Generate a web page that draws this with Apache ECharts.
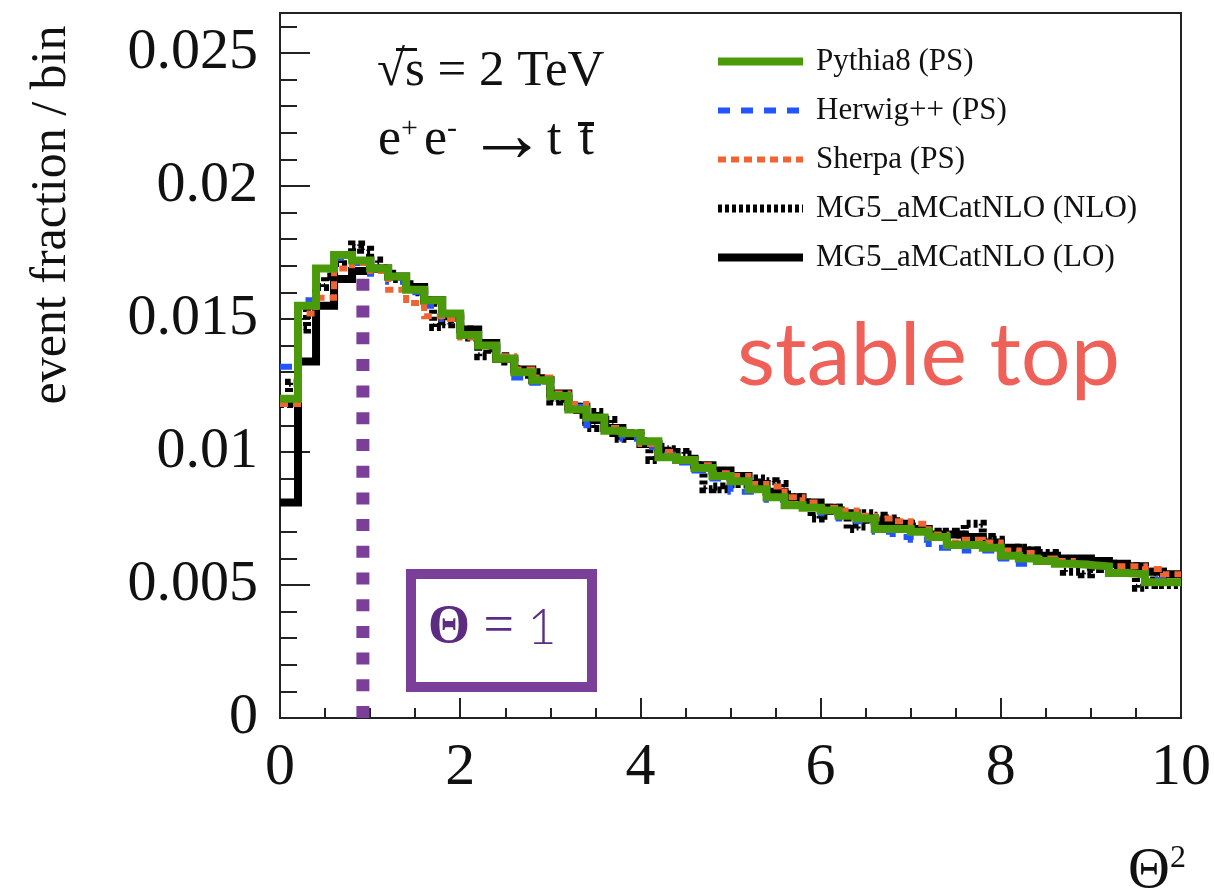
<!DOCTYPE html>
<html>
<head>
<meta charset="utf-8">
<script src="https://cdn.jsdelivr.net/npm/echarts/dist/echarts.min.js"></script>
<style>
  html, body { margin: 0; background: #fff; }
  #chart { width: 1214px; height: 896px; }
</style>
</head>
<body>
<div id="chart"></div>
<script>
// histogram contents, bin width 0.2 in Theta^2 (NLO: 0.1)
const pythia = [0.0120, 0.0155, 0.0169, 0.0174, 0.0172, 0.0169, 0.0166, 0.0161, 0.0157, 0.0152,
  0.0144, 0.0140, 0.0135, 0.0130, 0.0127, 0.0121, 0.0116, 0.0113, 0.0108, 0.0107,
  0.0104, 0.0098, 0.0097, 0.0094, 0.0091, 0.0089, 0.0086, 0.0083, 0.0080, 0.0079,
  0.0078, 0.0076, 0.0075, 0.0071, 0.0071, 0.0070, 0.0068, 0.0065, 0.0065, 0.0064,
  0.0061, 0.0060, 0.0059, 0.0058, 0.00575, 0.0057, 0.00545, 0.0054, 0.0051, 0.0051]
const herwig = [0.0132, 0.0157, 0.0169, 0.0173, 0.0171, 0.0167, 0.0164, 0.0160, 0.0155, 0.0150,
  0.0144, 0.0140, 0.0135, 0.0128, 0.0126, 0.0121, 0.0117, 0.0110, 0.0108, 0.0105,
  0.0102, 0.0099, 0.0096, 0.0093, 0.0090, 0.0085, 0.0085, 0.0082, 0.0080, 0.0079,
  0.0077, 0.0075, 0.0074, 0.0070, 0.0068, 0.0067, 0.0064, 0.0064, 0.0063, 0.0063,
  0.0060, 0.0058, 0.0059, 0.0058, 0.0058, 0.0057, 0.0055, 0.0054, 0.0052, 0.0051]
const sherpa = [0.0118, 0.0152, 0.0158, 0.0169, 0.0171, 0.0168, 0.0161, 0.0156, 0.0151, 0.0150,
  0.0143, 0.0140, 0.0136, 0.0131, 0.0128, 0.0122, 0.0118, 0.0113, 0.0109, 0.0107,
  0.0103, 0.0100, 0.0097, 0.0095, 0.0092, 0.0091, 0.0088, 0.0087, 0.0083, 0.0081,
  0.0079, 0.0078, 0.0076, 0.0075, 0.0074, 0.0073, 0.0069, 0.0066, 0.0067, 0.0066,
  0.0063, 0.0062, 0.0060, 0.0059, 0.0058, 0.0057, 0.0057, 0.0057, 0.0056, 0.0054]
const mgLO = [0.0081, 0.0134, 0.0155, 0.0165, 0.0168, 0.0169, 0.0166, 0.0162, 0.0157, 0.0151,
  0.0146, 0.0141, 0.0135, 0.0131, 0.0127, 0.0122, 0.0117, 0.0112, 0.0109, 0.0106,
  0.0103, 0.0100, 0.0097, 0.0095, 0.0093, 0.0091, 0.0088, 0.0085, 0.0083, 0.0081,
  0.0079, 0.0077, 0.0075, 0.0074, 0.0073, 0.0071, 0.0069, 0.0069, 0.0068, 0.0066,
  0.0064, 0.0063, 0.0061, 0.0060, 0.0060, 0.0059, 0.0058, 0.0057, 0.0055, 0.0054]
const mgNLO = [0.0118, 0.0126, 0.0146, 0.0155, 0.0162, 0.0166, 0.0171, 0.0174, 0.0178, 0.0176,
  0.0172, 0.0169, 0.0167, 0.0165, 0.0163, 0.0160, 0.0157, 0.0147, 0.0148, 0.0150,
  0.0146, 0.0143, 0.0136, 0.0139, 0.0136, 0.0134, 0.0131, 0.0129, 0.0130, 0.0127,
  0.0119, 0.0120, 0.0117, 0.0114, 0.0109, 0.0115, 0.0112, 0.0105, 0.0106, 0.0107,
  0.0104, 0.0097, 0.0102, 0.0101, 0.0100, 0.0099, 0.0095, 0.0086, 0.0087, 0.0086,
  0.0090, 0.0088, 0.0087, 0.0090, 0.0089, 0.0088, 0.0084, 0.0083, 0.0081, 0.0075,
  0.0076, 0.0079, 0.0078, 0.0071, 0.0072, 0.0077, 0.0076, 0.0075, 0.0074, 0.0073,
  0.0072, 0.0071, 0.0070, 0.0068, 0.0070, 0.0069, 0.0073, 0.0073, 0.0068, 0.0067,
  0.0063, 0.0062, 0.0064, 0.0063, 0.0062, 0.0062, 0.0061, 0.0055, 0.0055, 0.0054,
  0.0056, 0.0059, 0.0058, 0.0056, 0.0057, 0.0049, 0.0050, 0.0055, 0.0050, 0.0050]
const thetaOne = 0.92      // position of the dotted Theta = 1 marker
const markerTop = 0.0170
const xTicks = [0, 2, 4, 6, 8, 10]

const serif = "'Liberation Serif', 'Times New Roman', serif"

// step histogram: one point per bin low edge plus the closing edge
function hist(vals, w) {
  const pts = vals.map((v, i) => [+(i * w).toFixed(2), v])
  pts.push([+(vals.length * w).toFixed(2), vals[vals.length - 1]])
  return pts
}

const chart = echarts.init(document.getElementById('chart'))

function line(name, data, color, width, type) {
  return {
    name: name,
    type: 'line',
    step: 'end',
    symbol: 'none',
    data: data,
    itemStyle: { color: color },
    lineStyle: { color: color, width: width, type: type || 'solid', cap: 'butt', join: 'miter' }
  }
}

chart.setOption({
  animation: false,
  backgroundColor: '#fff',
  grid: {
    left: 280, right: 28, top: 13, bottom: 178,
    show: true, borderColor: '#222', borderWidth: 2
  },
  xAxis: {
    type: 'value',
    min: xTicks[0],
    max: xTicks[xTicks.length - 1],
    interval: 2,
    axisLine: { lineStyle: { color: '#222', width: 2 } },
    axisTick: { inside: true, length: 20, lineStyle: { color: '#222', width: 2 } },
    minorTick: { show: true, splitNumber: 4, length: 10, lineStyle: { color: '#222', width: 2 } },
    splitLine: { show: false },
    axisLabel: { margin: 20, fontFamily: serif, fontSize: 60, color: '#111' }
  },
  yAxis: [{
    type: 'value',
    min: 0,
    max: 0.0265,
    interval: 0.001,
    axisLine: { show: true, lineStyle: { color: '#222', width: 2 } },
    axisTick: { show: true, inside: true, length: 17, lineStyle: { color: '#222', width: 2 } },
    splitLine: { show: false },
    axisLabel: {
      margin: 22, fontFamily: serif, fontSize: 58, color: '#111',
      formatter: function (v) {
        const m = Math.round(v * 1000)
        if (Math.abs(v * 1000 - m) > 1e-6 || m % 5 !== 0) return ''
        return String(+v.toFixed(3))
      }
    }
  }, {
    // long ticks at the labelled values
    type: 'value',
    position: 'left',
    min: 0,
    max: 0.0265,
    interval: 0.005,
    axisLine: { show: false },
    axisTick: { show: true, inside: true, length: 30, lineStyle: { color: '#222', width: 2 } },
    axisLabel: { show: false },
    splitLine: { show: false }
  }],
  legend: {
    orient: 'vertical',
    left: 714,
    top: 46,
    padding: 0,
    itemWidth: 85,
    itemHeight: 10,
    itemGap: 18,
    selectedMode: false,
    itemStyle: { opacity: 0 },
    lineStyle: { width: 'inherit' },
    textStyle: { fontFamily: serif, fontSize: 31, color: '#111', padding: [0, 0, 0, 8] },
    data: ['Pythia8 (PS)', 'Herwig++ (PS)', 'Sherpa (PS)', 'MG5_aMCatNLO (NLO)', 'MG5_aMCatNLO (LO)']
  },
  series: [
    line('MG5_aMCatNLO (LO)', hist(mgLO, 0.2), '#000', 8),
    line('MG5_aMCatNLO (NLO)', hist(mgNLO, 0.1), '#000', 8, [4, 3]),
    line('Herwig++ (PS)', hist(herwig, 0.2), '#2255ff', 6, [12, 11]),
    line('Sherpa (PS)', hist(sherpa, 0.2), '#ef6432', 6, [8, 5]),
    line('Pythia8 (PS)', hist(pythia, 0.2), '#4b9a0a', 8),
    {
      type: 'line',
      symbol: 'none',
      data: [[thetaOne, 0], [thetaOne, markerTop]],
      lineStyle: { color: '#7b3f99', width: 13, type: [12, 14.7], cap: 'butt' },
      z: 5
    }
  ],
  graphic: [
    {
      type: 'text', x: 377, y: 72,
      style: { text: '√s = 2 TeV', font: '51px ' + serif, fill: '#111', textVerticalAlign: 'middle' }
    },
    {
      // overbar of the square root
      type: 'rect', shape: { x: 396, y: 48, width: 21, height: 3 },
      style: { fill: '#111' }
    },
    {
      type: 'text', x: 378, y: 140,
      style: {
        text: '{b|e}{s|+}{g| }{b|e}{s|-}{h| }{a|→}{b|t}{w| }{b|t}',
        fill: '#111',
        textVerticalAlign: 'middle',
        rich: {
          b: { fontSize: 52, fontFamily: serif, fill: '#111', lineHeight: 52 },
          g: { fontSize: 24, fontFamily: serif, fill: '#111', lineHeight: 52 },
          h: { fontSize: 40, fontFamily: serif, fill: '#111', lineHeight: 52 },
          w: { fontSize: 72, fontFamily: serif, fill: '#111', lineHeight: 52 },
          a: { fontSize: 80, fontFamily: serif, fill: '#111', lineHeight: 52 },
          s: { fontSize: 30, fontFamily: serif, fill: '#111', verticalAlign: 'top', lineHeight: 52 }
        }
      }
    },
    {
      // bar of the anti-top
      type: 'rect', shape: { x: 578, y: 122, width: 16, height: 4 },
      style: { fill: '#111' }
    },
    {
      type: 'text', x: 52, y: 215, rotation: Math.PI / 2,
      style: { text: 'event fraction / bin', font: '50px ' + serif, fill: '#111', textAlign: 'center', textVerticalAlign: 'middle' }
    },
    {
      type: 'text', x: 1128, y: 872,
      style: {
        text: '{b|Θ}{s|2}',
        textVerticalAlign: 'middle',
        rich: {
          b: { fontSize: 58, fontFamily: serif, fill: '#111', lineHeight: 58 },
          s: { fontSize: 32, fontFamily: serif, fill: '#111', verticalAlign: 'top', lineHeight: 58 }
        }
      }
    },
    {
      type: 'text', x: 737, y: 357,
      style: { text: 'stable top', font: '88px Lato', fill: '#ee6058', textVerticalAlign: 'middle' }
    },
    {
      type: 'rect', shape: { x: 411, y: 574, width: 181, height: 113 },
      style: { fill: 'none', stroke: '#7b3f99', lineWidth: 10 }
    },
    {
      type: 'text', x: 428, y: 628,
      style: {
        text: '{t|Θ}{e| = }{o|1}',
        textVerticalAlign: 'middle',
        rich: {
          t: { fontSize: 54, fontFamily: serif, fontWeight: 'bold', fill: '#5b2c82' },
          e: { fontSize: 54, fontFamily: serif, fill: '#5b2c82' },
          o: { fontSize: 50, fontFamily: 'Lato', fontWeight: 300, fill: '#5b2c82' }
        }
      }
    }
  ]
})
</script>
</body>
</html>
